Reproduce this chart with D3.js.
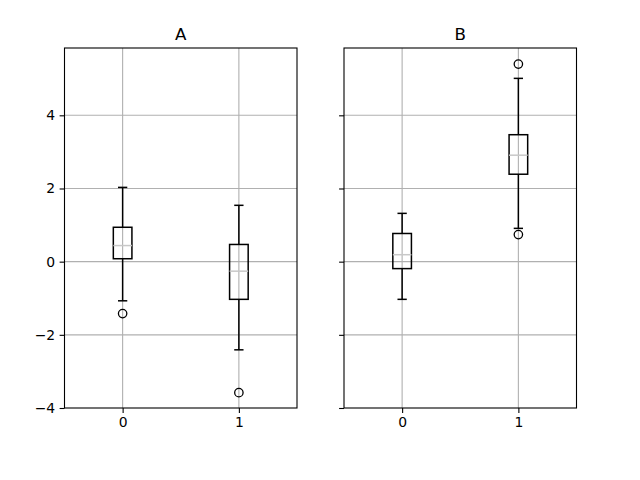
<!DOCTYPE html>
<html>
<head>
<meta charset="utf-8">
<script src="https://cdn.jsdelivr.net/npm/d3@7"></script>
<style>
  body { margin: 0; background: #fff; }
  text { font-family: "DejaVu Sans", sans-serif; fill: #000; }
</style>
</head>
<body>
<div class="chart"></div>
<script>
"use strict";

const panels = ["A", "B"];
const groups = [0, 1];
const yTicks = [-4, -2, 0, 2, 4];

// [whiskerLow, q1, median, q3, whiskerHigh] per group
const statsA = [
  [-1.07, 0.08, 0.44, 0.94, 2.03],
  [-2.41, -1.03, -0.26, 0.47, 1.54]
];
const statsB = [
  [-1.03, -0.19, 0.19, 0.77, 1.32],
  [0.91, 2.39, 2.91, 3.47, 5.01]
];
const outliersA = [[-1.42], [-3.58]];
const outliersB = [[], [0.74, 5.40]];

const width = 640;
const height = 480;
const plotTop = 48;
const plotBottom = 408;
const panelX = [[64.5, 297], [344, 576.5]];

const svg = d3
  .select(".chart")
  .append("svg")
  .attr("width", width)
  .attr("height", height);

const y = d3.scaleLinear().domain([-4, 5.84]).range([plotBottom, plotTop]);

const renderPanel = (name, stats, outliers, idx) => {
  const [x0, x1] = panelX[idx];
  const x = d3.scaleLinear().domain([-0.5, 1.5]).range([x0, x1]);
  const g = svg.append("g");

  // grid
  g.selectAll(".hgrid")
    .data(yTicks.filter((t) => y(t) > plotTop && y(t) < plotBottom))
    .enter()
    .append("line")
    .attr("x1", x0)
    .attr("x2", x1)
    .attr("y1", (d) => y(d))
    .attr("y2", (d) => y(d))
    .style("stroke", "#b0b0b0")
    .style("stroke-width", 1.1);

  g.selectAll(".vgrid")
    .data(groups)
    .enter()
    .append("line")
    .attr("x1", (d) => x(d))
    .attr("x2", (d) => x(d))
    .attr("y1", plotTop)
    .attr("y2", plotBottom)
    .style("stroke", "#b0b0b0")
    .style("stroke-width", 1.1);

  const boxW = 0.16;
  const capW = 0.08;

  const box = g
    .selectAll(".box")
    .data(stats)
    .enter()
    .append("g");

  // whiskers
  box.append("line")
    .attr("x1", (d, i) => x(i))
    .attr("x2", (d, i) => x(i))
    .attr("y1", (d) => y(d[3]))
    .attr("y2", (d) => y(d[4]))
    .style("stroke", "#000")
    .style("stroke-width", 1.5);
  box.append("line")
    .attr("x1", (d, i) => x(i))
    .attr("x2", (d, i) => x(i))
    .attr("y1", (d) => y(d[0]))
    .attr("y2", (d) => y(d[1]))
    .style("stroke", "#000")
    .style("stroke-width", 1.5);

  // caps
  [0, 4].forEach((k) => {
    box.append("line")
      .attr("x1", (d, i) => x(i - capW / 2))
      .attr("x2", (d, i) => x(i + capW / 2))
      .attr("y1", (d) => y(d[k]))
      .attr("y2", (d) => y(d[k]))
      .style("stroke", "#000")
      .style("stroke-width", 1.5);
  });

  // box
  box.append("rect")
    .attr("x", (d, i) => x(i - boxW / 2))
    .attr("width", (d, i) => x(i + boxW / 2) - x(i - boxW / 2))
    .attr("y", (d) => y(d[3]))
    .attr("height", (d) => y(d[1]) - y(d[3]))
    .style("fill", "none")
    .style("stroke", "#000")
    .style("stroke-width", 1.5);

  // median
  box.append("line")
    .attr("x1", (d, i) => x(i - boxW / 2))
    .attr("x2", (d, i) => x(i + boxW / 2))
    .attr("y1", (d) => y(d[2]))
    .attr("y2", (d) => y(d[2]))
    .style("stroke", "#c8c8c8")
    .style("stroke-width", 1.5);

  // outliers
  outliers.forEach((vals, i) => {
    g.selectAll(null)
      .data(vals)
      .enter()
      .append("circle")
      .attr("cx", x(i))
      .attr("cy", (d) => y(d))
      .attr("r", 4.2)
      .style("fill", "none")
      .style("stroke", "#000")
      .style("stroke-width", 1.3);
  });

  // frame
  g.append("rect")
    .attr("x", x0)
    .attr("y", plotTop)
    .attr("width", x1 - x0)
    .attr("height", plotBottom - plotTop)
    .style("fill", "none")
    .style("stroke", "#000")
    .style("stroke-width", 1.1);

  // x axis
  const xAxis = g.append("g")
    .attr("transform", `translate(0,${plotBottom})`)
    .call(d3.axisBottom(x).tickValues(groups).tickSize(4.9).tickPadding(4.5).tickFormat(d3.format("d")));
  xAxis.select(".domain").remove();

  // y axis
  const yAxis = g.append("g")
    .attr("transform", `translate(${x0},0)`)
    .call(
      d3.axisLeft(y)
        .tickValues(yTicks)
        .tickSize(4.9)
        .tickPadding(4.5)
        .tickFormat((d) => (idx === 0 ? (d < 0 ? "\u2212" + Math.abs(d) : d) : ""))
    );
  yAxis.select(".domain").remove();

  [xAxis, yAxis].forEach((a) => {
    a.selectAll("line").style("stroke", "#000").style("stroke-width", 1.1);
    a.selectAll("text")
      .style("font-family", "DejaVu Sans, sans-serif")
      .style("font-size", "13.9px")
      .style("fill", "#000");
  });

  // title
  g.append("text")
    .attr("x", (x0 + x1) / 2)
    .attr("y", plotTop - 8)
    .attr("text-anchor", "middle")
    .style("font-size", "16.7px")
    .text(name);
};

renderPanel(panels[0], statsA, outliersA, 0);
renderPanel(panels[1], statsB, outliersB, 1);
</script>
</body>
</html>
